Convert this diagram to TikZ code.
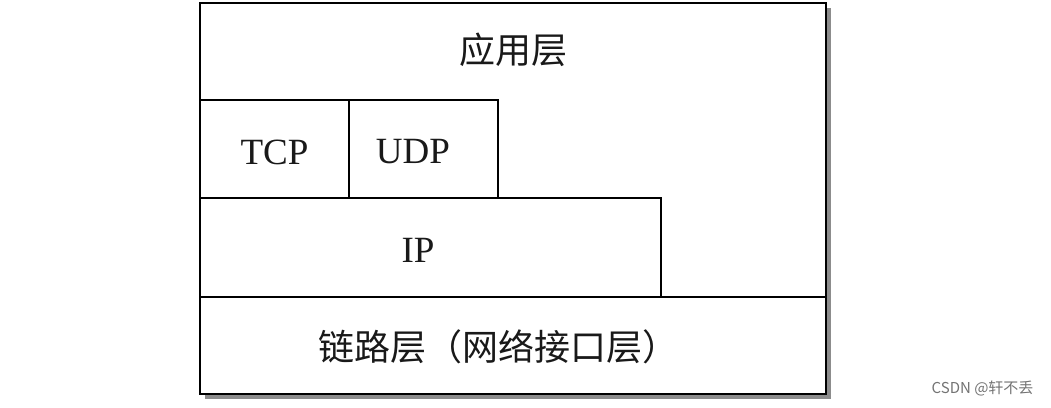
\documentclass[tikz,border=0pt]{standalone}
\usepackage{fontspec}
\setmainfont{Liberation Serif}
\newfontfamily\cjk{Noto Sans CJK SC}
\newfontfamily\wmfont{Liberation Sans}
\begin{document}
\begin{tikzpicture}[x=1pt,y=-1pt,
  layer/.style={draw=black,line width=1.3pt,fill=white},
  lbl/.style={font=\fontsize{37}{40}\selectfont,text=black!90},
  cjklbl/.style={font=\cjk\fontsize{36}{40}\selectfont,text=black!90},
  shadowfill/.style={fill=black!45,draw=none}]
\useasboundingbox (0,0) rectangle (1051,407);
% shadow
\fill[shadowfill] (826,8) rectangle (831,399);
\fill[shadowfill] (205,394) rectangle (831,399);
% outer box
\draw[layer,line width=1.8pt] (200,3) rectangle (826,394);
\coordinate (app) at (513,50);
\node[cjklbl] (applbl) at (app) {应用层};
% TCP, UDP
\draw[layer] (200,100) rectangle (349,198);
\draw[layer] (349,100) rectangle (498,198);
\node[lbl] (tcp) at (274.5,152) {TCP};
\node[lbl] (udp) at (413,152) {UDP};
% IP
\draw[layer] (200,198) rectangle (661,297);
\node[lbl] (ip) at (418,250) {IP};
% link layer
\draw[layer] (200,297) -- (826,297);
\node[cjklbl] (link) at (498,347) {链路层（网络接口层）};
% watermark
\node[font=\cjk\fontsize{15}{17}\selectfont,text=black!55,anchor=east] (wm) at (1037,388) {CSDN @轩不丢};
\end{tikzpicture}
\end{document}
